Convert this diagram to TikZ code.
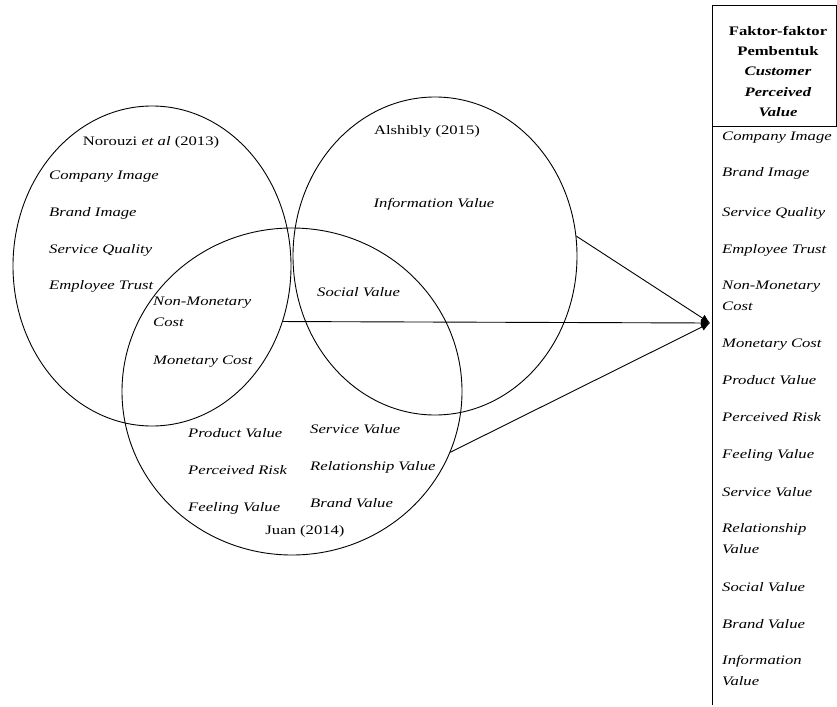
\documentclass[tikz,border=0pt]{standalone}
\usepackage{fontspec}
\setmainfont[FakeStretch=1.28]{Liberation Serif}
\usetikzlibrary{shapes.geometric,arrows.meta}
\begin{document}
\begin{tikzpicture}[x=1pt,y=-1pt,
  circ/.style={draw,ellipse,line width=0.9pt,inner sep=0pt},
  it/.style={font=\fontsize{13}{21}\selectfont\itshape,inner sep=0pt,anchor=base west},
  itm/.style={font=\fontsize{13}{21}\selectfont\itshape,inner sep=0pt,anchor=north west,align=left},
  rm/.style={font=\fontsize{13}{21}\selectfont,inner sep=0pt,anchor=base},
  conn/.style={line width=0.9pt,-{Latex[length=9pt,width=8pt]}},
  rule/.style={line width=0.9pt}]
\useasboundingbox (0,0) rectangle (837,706);
% circles
\node[circ,minimum width=278pt,minimum height=320pt] (nor) at (152,266) {};
\node[circ,minimum width=284pt,minimum height=318pt] (als) at (435,256) {};
\node[circ,minimum width=340pt,minimum height=327pt] (jua) at (292,391.5) {};
% circle titles
\node[rm] (tnor) at (151,145) {Norouzi \textit{et al} (2013)};
\node[rm] (tals) at (427,134) {Alshibly (2015)};
\node[rm] (tjua) at (305,534) {Juan (2014)};
% Norouzi items
\node[it] (n1) at (49,179) {Company Image};
\node[it] (n2) at (49,216) {Brand Image};
\node[it] (n3) at (49,253) {Service Quality};
\node[it] (n4) at (49,289) {Employee Trust};
\node[itm] (n5) at (153,297) {Non-Monetary\\Cost};
\node[it] (n6) at (153,364) {Monetary Cost};
% Alshibly items
\node[it,anchor=base] (a1) at (434,207) {Information Value};
\node[it] (a2) at (317,296) {Social Value};
% Juan items
\node[it] (j1) at (188,437) {Product Value};
\node[it] (j2) at (188,474) {Perceived Risk};
\node[it] (j3) at (188,511) {Feeling Value};
\node[it] (j4) at (310,433) {Service Value};
\node[it] (j5) at (310,470) {Relationship Value};
\node[it] (j6) at (310,507) {Brand Value};
% table column
\draw[rule] (712,5) -- (712,705);
\draw[rule] (712,5) -- (836.5,5) -- (836.5,126);
\draw[rule] (712,126) -- (837,126);
\node[font=\fontsize{13}{20.3}\selectfont\bfseries,inner sep=0pt,anchor=north,align=center] (hd) at (778,26)
  {Faktor-faktor\\Pembentuk\\\textit{Customer}\\\textit{Perceived}\\\textit{Value}};
\node[it] (r1) at (722,140) {Company Image};
\node[it] (r2) at (722,176) {Brand Image};
\node[it] (r3) at (722,216) {Service Quality};
\node[it] (r4) at (722,253) {Employee Trust};
\node[itm] (r5) at (722,281) {Non-Monetary\\Cost};
\node[it] (r6) at (722,347) {Monetary Cost};
\node[it] (r7) at (722,384) {Product Value};
\node[it] (r8) at (722,421) {Perceived Risk};
\node[it] (r9) at (722,458) {Feeling Value};
\node[it] (r10) at (722,496) {Service Value};
\node[itm] (r11) at (722,523) {Relationship\\Value};
\node[it] (r12) at (722,591) {Social Value};
\node[it] (r13) at (722,628) {Brand Value};
\node[itm] (r14) at (722,655) {Information\\Value};
% connectors
\coordinate (tip) at (710,323);
\draw[conn] (nor.-23.4) -- (tip);
\draw[conn] (als.8) -- (tip);
\draw[conn] (jua.-21.3) -- (tip);
\end{tikzpicture}
\end{document}
